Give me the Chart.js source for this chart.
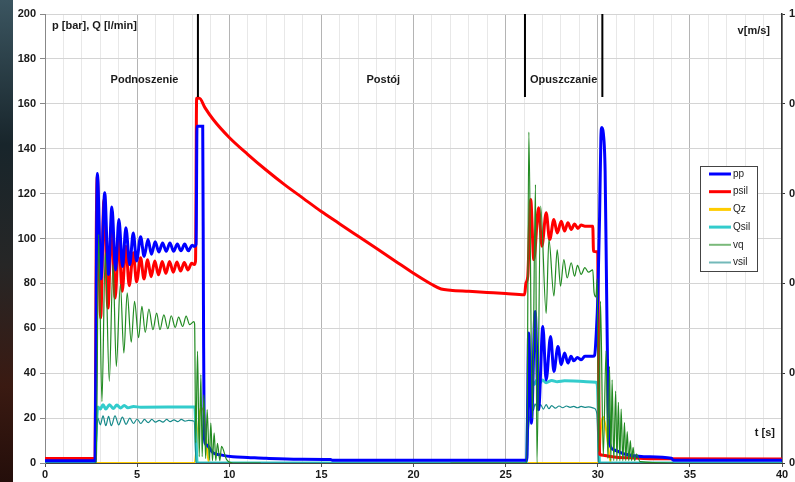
<!DOCTYPE html>
<html>
<head>
<meta charset="utf-8">
<script src="https://cdn.jsdelivr.net/npm/chart.js@4.4.1/dist/chart.umd.min.js"></script>
<style>
    html, body { margin: 0; padding: 0; overflow: hidden; background: #fff; }
    #wrap { position: relative; width: 830px; height: 482px; }
    #edge {
        position: absolute; left: 0; top: 0; width: 13px; height: 482px;
        background: linear-gradient(#3b5560, #18252b 30%, #262626 55%, #3a1a12 80%, #240e0a);
    }
    canvas { position: absolute; left: 0; top: 0; }
</style>
</head>
<body>
<div id="wrap">
    <div id="edge"></div>
    <canvas id="chart" width="830" height="482"></canvas>
</div>
<script>
// DATA (t in s, p in bar, Q in l/min, v in m/s)
const ppT = [0, 2.72, 2.8, 2.84, 3.04, 3.24, 3.44, 3.63, 3.83, 4.01, 4.21, 4.39, 4.6, 4.79, 4.97, 5.19, 5.38, 5.59, 5.78, 5.98, 6.18, 6.38, 6.58, 6.78, 6.98, 7.18, 7.38, 7.58, 7.78, 7.98, 8.1, 8.2, 8.25, 8.56, 8.6, 8.64, 8.77, 9.13, 9.6, 10.2, 11, 12, 13.8, 15.5, 15.6, 26.15, 26.25, 26.4, 26.6, 26.79, 27.02, 27.2, 27.44, 27.62, 27.84, 28.02, 28.2, 28.38, 28.55, 28.7, 28.9, 29.1, 29.3, 29.73, 29.83, 29.93, 30.0, 30.1, 30.17, 30.22, 30.3, 30.4, 30.48, 30.55, 30.64, 30.9, 31.45, 32.5, 34, 34.1, 40];
const ppV = [1, 1, 100, 129, 82, 120.4, 84, 114, 86, 108.5, 87.5, 104.8, 88.4, 102.5, 90, 100.8, 92, 99.5, 93, 98.5, 94, 98, 94.3, 98, 94.3, 97.5, 94.5, 97.5, 94.5, 97, 96.5, 97.5, 150, 150, 70, 12, 8, 4.5, 3.5, 2.8, 2.5, 2.1, 1.7, 1.6, 1.2, 1.2, 57.9, 17.7, 67.5, 23.7, 60.8, 37, 56.4, 40.8, 51.9, 43.8, 49, 44.5, 47.5, 45.5, 47, 46, 47.5, 47.5, 48, 59.4, 72.8, 110, 145, 149.4, 147, 130, 77, 32.6, 8.8, 5.8, 4, 2.8, 2.1, 1.2, 1.2];

const psilT = [0, 2.72, 2.78, 2.84, 3.02, 3.2, 3.42, 3.6, 3.81, 4.0, 4.19, 4.39, 4.57, 4.79, 4.97, 5.19, 5.37, 5.57, 5.76, 5.96, 6.16, 6.36, 6.56, 6.76, 6.96, 7.16, 7.36, 7.56, 7.76, 7.96, 8.1, 8.17, 8.23, 8.38, 8.68, 9.13, 10, 11, 12, 13, 14, 15, 16, 17, 18, 19, 20, 21, 21.5, 22, 23, 24, 25, 26.03, 26.1, 26.2, 26.36, 26.53, 26.79, 26.97, 27.2, 27.39, 27.62, 27.8, 28.02, 28.2, 28.38, 28.56, 28.74, 28.92, 29.1, 29.3, 29.73, 29.77, 30.0, 30.05, 30.1, 30.3, 30.6, 31, 32, 33, 40];
const psilV = [2, 2, 100, 127.8, 64.6, 117.4, 69, 105.5, 73.5, 100.3, 76.5, 96.6, 79, 93.6, 80.7, 91.4, 82, 90.5, 83, 90, 83.8, 89.8, 84.5, 89.8, 85, 89.5, 85.5, 89.3, 86, 89, 88.4, 90, 162.5, 162.5, 158.3, 153, 145, 137.5, 130.5, 124, 118, 112, 106.5, 101, 95.5, 90, 84.5, 79.5, 77.5, 77, 76.5, 76, 75.5, 75, 80, 83, 117.4, 90.6, 113.7, 96.6, 111.5, 99.5, 108.5, 102.5, 107.7, 103.3, 107, 104, 106.5, 104.5, 106, 105.5, 105.5, 94.3, 94, 40, 4, 3.5, 3, 2.6, 2.2, 1.9, 1.8];

const qzT = [0, 8.12, 8.3, 8.45, 8.6, 8.75, 8.9, 30.05, 30.2, 30.3, 30.45, 30.6, 30.72, 40];
const qzV = [0, 0, 15, 24.5, 23.5, 10, 0, 0, 18, 20.5, 15, 5, 0, 0];

const qsilT = [0, 2.72, 2.8, 2.87, 3.0, 3.15, 3.3, 3.5, 3.7, 3.9, 4.1, 4.3, 4.5, 4.8, 5.2, 8.13, 8.26, 26.12, 26.2, 26.3, 26.4, 26.55, 26.7, 26.85, 27.0, 27.2, 27.5, 27.8, 28.2, 29.9, 29.98, 30.1, 40];
const qsilV = [0, 0, 18, 25, 24, 26, 24, 26, 24.3, 25.8, 24.5, 25.6, 24.6, 25.2, 24.8, 25, 0, 0, 25, 34, 37, 35, 37, 35.5, 37, 35.8, 36.8, 36.2, 36.6, 36, 34.5, 0, 0];

const vqT = [2.7, 2.78, 2.91, 3.09, 3.27, 3.49, 3.69, 3.87, 4.09, 4.28, 4.46, 4.68, 4.86, 5.08, 5.26, 5.44, 5.64, 5.86, 6.06, 6.24, 6.45, 6.67, 6.85, 7.07, 7.25, 7.47, 7.66, 7.85, 8.08, 8.12, 8.18, 8.28, 8.37, 8.46, 8.53, 8.62, 8.72, 8.8, 8.92, 9.0, 9.09, 9.18, 9.27, 9.36, 9.49, 9.58, 9.85, 10.2, 11.7,
    16,
    22, 26.15, 26.26, 26.45, 26.62, 26.7, 26.9, 27.2, 27.35, 27.62, 27.8, 27.98, 28.16, 28.34, 28.56, 28.74, 28.9, 29.1, 29.3, 29.5, 29.73, 29.8, 29.9, 29.97, 30.05, 30.15, 30.3, 30.45, 30.55, 30.64, 30.71, 30.78, 30.87, 30.97, 31.04, 31.12, 31.2, 31.27, 31.36, 31.45, 31.52, 31.6, 31.68, 31.77, 31.84, 31.92, 32.0, 32.1, 32.3, 34.1];
const vqV = [0, 0, 0.509, 0.137, 0.468, 0.182, 0.442, 0.215, 0.398, 0.245, 0.379, 0.269, 0.36, 0.279, 0.349, 0.291, 0.343, 0.297, 0.334, 0.297, 0.33, 0.299, 0.328, 0.302, 0.325, 0.304, 0.327, 0.308, 0.315, 0.31, 0.045, 0.249, 0.014, 0.197, 0.014, 0.152, 0.01, 0.119, 0.006, 0.089, 0.005, 0.067, 0.005, 0.044, 0.005, 0.037, 0.008, 0, 0,
    null,
    0, 0, 0.737, 0.1, 0.62, 0, 0.572, 0.333, 0.498, 0.372, 0.475, 0.394, 0.453, 0.412, 0.446, 0.416, 0.44, 0.42, 0.435, 0.425, 0.43, 0.38, 0.37, 0.41, 0.025, 0.36, 0.015, 0.25, 0.01, 0.215, 0.005, 0.185, 0.005, 0.16, 0.005, 0.135, 0.005, 0.12, 0.005, 0.09, 0.005, 0.07, 0.005, 0.05, 0.005, 0.035, 0.005, 0.02, 0.003, 0];

const vsilT = [0, 2.72, 2.87, 3.0, 3.15, 3.3, 3.45, 3.6, 3.8, 4.0, 4.2, 4.4, 4.6, 4.8, 5.0, 5.2, 5.4, 5.6, 5.8, 6.0, 6.2, 6.4, 6.6, 6.8, 7.0, 7.2, 7.4, 7.6, 7.8, 8.1, 8.2, 26.1, 26.25, 26.4, 26.5, 26.6, 26.75, 26.9, 27.05, 27.2, 27.35, 27.5, 27.7, 27.9, 28.1, 28.3, 28.5, 28.7, 28.9, 29.1, 29.3, 29.5, 29.8, 29.95, 30.05, 30.1, 40];
const vsilV = [0, 0, 0.1, 0.085, 0.105, 0.083, 0.104, 0.083, 0.105, 0.085, 0.102, 0.086, 0.1, 0.088, 0.098, 0.088, 0.097, 0.09, 0.097, 0.091, 0.095, 0.091, 0.097, 0.092, 0.096, 0.092, 0.097, 0.093, 0.095, 0.093, 0, 0, 0.08, 0.125, 0.117, 0.132, 0.118, 0.13, 0.12, 0.13, 0.121, 0.128, 0.122, 0.127, 0.123, 0.127, 0.124, 0.126, 0.123, 0.126, 0.124, 0.125, 0.122, 0.11, 0.003, 0, 0];

// phase markers
const phaseLinesT = [8.3, 26.05, 30.25];
const phaseLineFrom = 163;
const phaseLineTo = 200;
const phaseNames = ["Podnoszenie", "Postój", "Opuszczanie"];
const phaseCentersT = [5.4, 18.36, 28.15];
const phaseLabelP = 170.5;

const seriesNames = ["pp", "psil", "Qz", "Qsil", "vq", "vsil"];
const seriesColors = ["#0000ff", "#ff0000", "#ffcc00", "#33cccc", "#228b22", "#168a8a"];

const FONT = "'Liberation Sans', Arial, sans-serif";

function pts(ts, vs) {
    return ts.map((t, i) => ({ x: t, y: vs[i] }));
}

function phaseLineData() {
    const out = [];
    phaseLinesT.forEach(t => {
        out.push({ x: t, y: phaseLineFrom }, { x: t, y: phaseLineTo }, { x: t, y: null });
    });
    return out;
}

// TEXT + LEGEND OVERLAY
const overlay = {
    id: "overlay",
    afterDraw(chart) {
        const ctx = chart.ctx;
        const xs = chart.scales.x;
        const ys = chart.scales.y;
        const area = chart.chartArea;

        ctx.save();
        ctx.fillStyle = "#1a1a1a";
        ctx.textBaseline = "middle";

        // phase names
        ctx.font = "bold 11px " + FONT;
        ctx.textAlign = "center";
        phaseNames.forEach((name, i) => {
            ctx.fillText(name, xs.getPixelForValue(phaseCentersT[i]), ys.getPixelForValue(phaseLabelP));
        });

        // axis titles
        ctx.textAlign = "left";
        ctx.fillText("p [bar], Q [l/min]", area.left + 7, area.top + 12);
        ctx.textAlign = "right";
        ctx.fillText("v[m/s]", area.right - 12, area.top + 17);
        ctx.fillText("t [s]", area.right - 7, area.bottom - 30);

        // legend box
        const bx = area.right - 82, by = area.top + 152, bw = 57, bh = 105;
        ctx.fillStyle = "#fff";
        ctx.fillRect(bx, by, bw, bh);
        ctx.strokeStyle = "#444";
        ctx.lineWidth = 1;
        ctx.strokeRect(bx + 0.5, by + 0.5, bw, bh);

        ctx.font = "10px " + FONT;
        ctx.textAlign = "left";
        seriesNames.forEach((name, i) => {
            const ry = by + 8 + i * 17.7;
            ctx.strokeStyle = seriesColors[i];
            ctx.lineWidth = i < 4 ? 3 : 2;
            ctx.globalAlpha = i < 4 ? 1 : 0.6;
            ctx.beginPath();
            ctx.moveTo(bx + 9, ry);
            ctx.lineTo(bx + 31, ry);
            ctx.stroke();
            ctx.globalAlpha = 1;
            ctx.fillStyle = "#222";
            ctx.fillText(name, bx + 33, ry);
        });

        ctx.restore();
    }
};

function lineSet(name, data, color, width, axis, order) {
    return {
        label: name,
        data: data,
        yAxisID: axis,
        borderColor: color,
        borderWidth: width,
        pointRadius: 0,
        cubicInterpolationMode: "monotone",
        fill: false,
        order: order
    };
}

new Chart(document.getElementById("chart"), {
    type: "line",
    data: {
        datasets: [
            lineSet("pp", pts(ppT, ppV), seriesColors[0], 3, "y", 1),
            lineSet("psil", pts(psilT, psilV), seriesColors[1], 3, "y", 2),
            lineSet("Qz", pts(qzT, qzV), seriesColors[2], 2, "y", 5),
            lineSet("Qsil", pts(qsilT, qsilV), seriesColors[3], 3, "y", 4),
            lineSet("vq", pts(vqT, vqV), seriesColors[4], 1.2, "y1", 0),
            lineSet("vsil", pts(vsilT, vsilV), seriesColors[5], 1.2, "y1", 3),
            {
                label: "phases",
                data: phaseLineData(),
                yAxisID: "y",
                borderColor: "#000",
                borderWidth: 2,
                pointRadius: 0,
                order: 0
            }
        ]
    },
    options: {
        responsive: false,
        animation: false,
        devicePixelRatio: 1,
        layout: { padding: { top: 14, left: 0, right: 0, bottom: 0 } },
        plugins: { legend: { display: false }, tooltip: { enabled: false } },
        scales: {
            x: {
                type: "linear",
                min: 0,
                max: 40,
                afterFit: s => { s.height = 19; },
                ticks: {
                    stepSize: 1,
                    autoSkip: false,
                    maxRotation: 0,
                    padding: 1,
                    color: "#1a1a1a",
                    font: { family: FONT, size: 11, weight: "bold" },
                    callback: v => (v % 5 === 0 ? v : "")
                },
                grid: {
                    color: c => (c.tick && c.tick.value % 5 === 0 ? "#b4b4b4" : "#e8e8e8"),
                    tickColor: c => (c.tick && c.tick.value % 5 === 0 ? "#555" : "rgba(0,0,0,0)"),
                    tickLength: 4
                },
                border: { color: "#444", width: 1 }
            },
            y: {
                position: "left",
                min: 0,
                max: 200,
                afterFit: s => { s.width = 45; },
                ticks: {
                    stepSize: 20,
                    padding: 4,
                    color: "#1a1a1a",
                    font: { family: FONT, size: 11, weight: "bold" }
                },
                grid: { color: "#d4d4d4", tickColor: "#888", tickLength: 5 },
                border: { color: "#888", width: 1 }
            },
            y1: {
                position: "right",
                min: 0,
                max: 1,
                afterFit: s => { s.width = 48; },
                ticks: {
                    stepSize: 0.2,
                    padding: 4,
                    color: "#1a1a1a",
                    font: { family: FONT, size: 11, weight: "bold" }
                },
                grid: { drawOnChartArea: false, tickColor: "#333", tickLength: 3 },
                border: { color: "#333", width: 1.5 }
            }
        }
    },
    plugins: [overlay]
});
</script>
</body>
</html>
